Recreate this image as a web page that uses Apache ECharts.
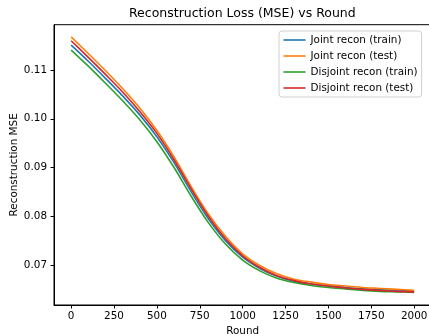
<!DOCTYPE html>
<html>
<head>
<meta charset="utf-8">
<script src="https://cdn.jsdelivr.net/npm/echarts@6/dist/echarts.min.js"></script>
<style>
html,body{margin:0;padding:0;background:#fff;}
#chart{width:429px;height:336px;}
</style>
</head>
<body>
<div id="chart"></div>
<script>
const rounds = [0,100,200,300,400,500,600,700,800,900,1000,1100,1200,1300,1400,1500,1600,1700,1800,1900,2000];
const jointTrain = [0.1151,0.1118,0.1083,0.1047,0.1008,0.0963,0.0910,0.0850,0.0795,0.0750,0.0716,0.0693,0.0677,0.0667,0.0661,0.0657,0.0654,0.0651,0.0649,0.0648,0.0646];
const jointTest = [0.1168,0.1134,0.1099,0.1062,0.1022,0.0976,0.0922,0.0861,0.0805,0.0759,0.0723,0.0699,0.0682,0.0671,0.0665,0.0660,0.0657,0.0654,0.0652,0.0650,0.0648];
const disjointTrain = [0.1141,0.1108,0.1073,0.1037,0.0998,0.0953,0.0900,0.0841,0.0787,0.0743,0.0710,0.0688,0.0673,0.0664,0.0658,0.0654,0.0651,0.0648,0.0646,0.0645,0.0644];
const disjointTest = [0.1160,0.1126,0.1091,0.1055,0.1015,0.0970,0.0916,0.0856,0.0800,0.0754,0.0719,0.0695,0.0678,0.0668,0.0661,0.0657,0.0653,0.0650,0.0648,0.0646,0.0645];
const xTicks = [0,250,500,750,1000,1250,1500,1750,2000];
const yTicks = [0.07,0.08,0.09,0.10,0.11];
const seriesNames = ['Joint recon (train)','Joint recon (test)','Disjoint recon (train)','Disjoint recon (test)'];
const seriesColors = ['#1f77b4','#ff7f0e','#2ca02c','#d62728'];
const seriesValues = [jointTrain, jointTest, disjointTrain, disjointTest];

const FONT = 'DejaVu Sans';
const chart = echarts.init(document.getElementById('chart'), null, {renderer:'canvas'});
chart.setOption({
  backgroundColor:'#fff',
  animation:false,
  title:{
    text:'Reconstruction Loss (MSE) vs Round',
    left:129, top:7, padding:0,
    textStyle:{fontFamily:FONT,fontSize:12.5,fontWeight:'normal',color:'#000'}
  },
  legend:{
    orient:'vertical',
    left:279, top:31,
    padding:[2,4,2,4.5],
    itemGap:2,
    itemWidth:22, itemHeight:1.6,
    icon:'rect',
    backgroundColor:'#fff',
    borderColor:'#d0d0d0', borderWidth:1, borderRadius:3,
    textStyle:{fontFamily:FONT,fontSize:10.4,color:'#000',lineHeight:14},
    data:seriesNames
  },
  grid:{left:54,top:24.7,width:377.3,height:280.3,show:true,borderColor:'#000',borderWidth:1,
    containLabel:false, outerBoundsMode:'none'},
  xAxis:{
    type:'value', min:-100, max:2100,
    name:'Round', nameLocation:'middle', nameGap:21, nameMoveOverlap:false,
    nameTextStyle:{fontFamily:FONT,fontSize:10.4,color:'#000'},
    axisLine:{show:true,onZero:false,lineStyle:{color:'#000',width:1}},
    axisTick:{show:true,length:3.5,lineStyle:{color:'#000'},customValues:xTicks},
    axisLabel:{show:true,margin:6,fontFamily:FONT,fontSize:10.4,color:'#000',customValues:xTicks,
      formatter:v=>String(v), hideOverlap:false},
    splitLine:{show:false}
  },
  yAxis:{
    type:'value', min:0.0618, max:0.1193,
    name:'Reconstruction MSE', nameLocation:'middle', nameGap:35, nameRotate:90, nameMoveOverlap:false,
    nameTextStyle:{fontFamily:FONT,fontSize:10.4,color:'#000'},
    axisLine:{show:true,onZero:false,lineStyle:{color:'#000',width:1}},
    axisTick:{show:true,length:3.5,lineStyle:{color:'#000'},customValues:yTicks},
    axisLabel:{show:true,margin:7,fontFamily:FONT,fontSize:10.4,color:'#000',customValues:yTicks,
      formatter:v=>v.toFixed(2)},
    splitLine:{show:false}
  },
  series: seriesNames.map((n,i)=>({
    name:n, type:'line',
    data: rounds.map((r,j)=>[r, seriesValues[i][j]]),
    symbol:'none', smooth:0.3,
    lineStyle:{color:seriesColors[i],width:1.6},
    itemStyle:{color:seriesColors[i]},
    z:2+i
  }))
});
</script>
</body>
</html>
